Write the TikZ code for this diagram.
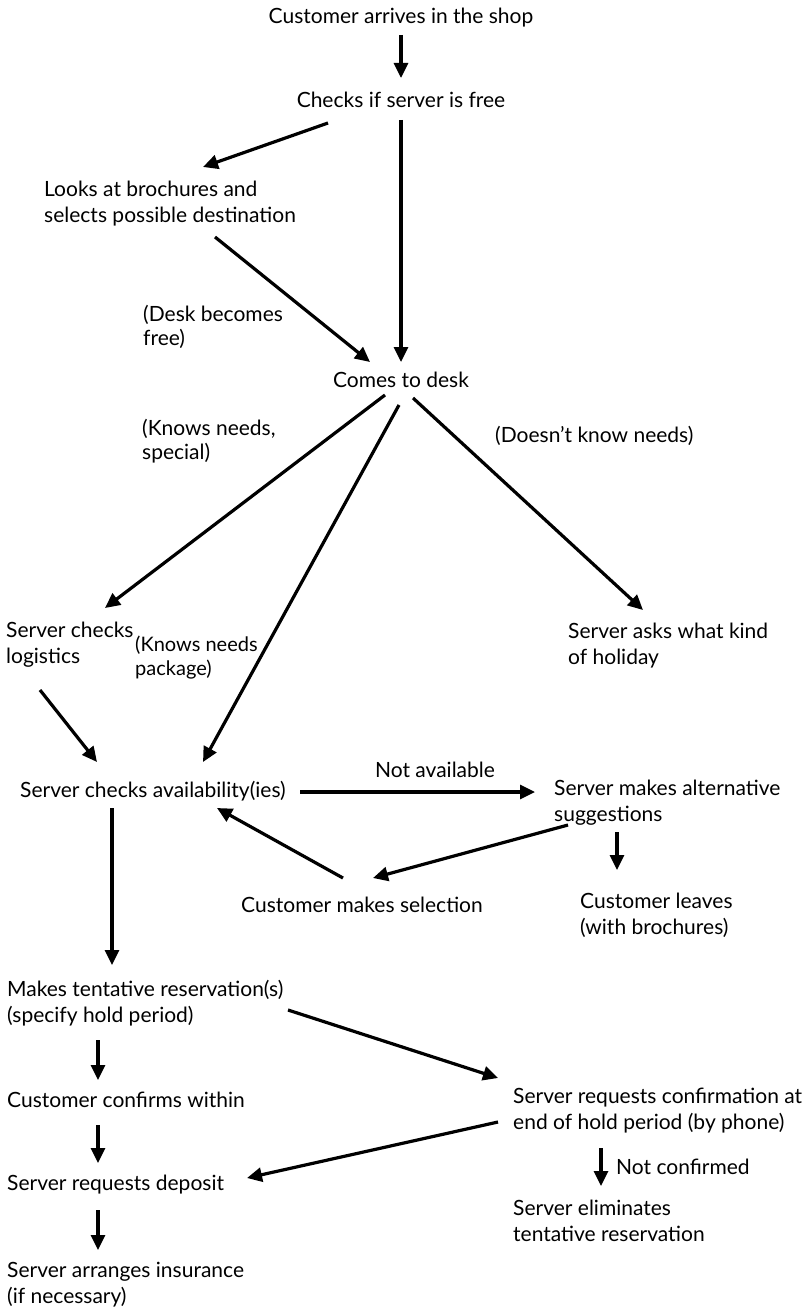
\documentclass[tikz,border=0pt]{standalone}
\usepackage{fontspec}
\setmainfont{Lato}
\usetikzlibrary{arrows.meta}
\begin{document}
\begin{tikzpicture}[x=1pt,y=-1pt,
  txt/.style={inner sep=0pt,align=left,font=\fontsize{21}{26}\selectfont},
  ctr/.style={inner sep=0pt,align=center,font=\fontsize{21}{26}\selectfont},
  arr/.style={line width=3.2pt,-{Triangle[length=15pt,width=14pt]}},
  lbl/.style={inner sep=0pt,align=left,font=\fontsize{21}{24}\selectfont}]
\useasboundingbox (0,0) rectangle (805,1308);
% main nodes
\node[ctr] (arrive) at (401,18) {Customer arrives in the shop};
\node[ctr] (free) at (401,100) {Checks if server is free};
\node[txt,anchor=west] (look) at (44,204) {Looks at brochures and\\selects possible destination};
\node[ctr] (desk) at (401,380) {Comes to desk};
\node[txt,anchor=west] (logi) at (6,645) {Server checks\\logistics};
\node[txt,anchor=west] (kind) at (568,646) {Server asks what kind\\of holiday};
\node[txt,anchor=west] (avail) at (20,791) {Server checks availability(ies)};
\node[txt,anchor=west] (alt) at (554,803) {Server makes alternative\\suggestions};
\node[ctr] (sel) at (362,905) {Customer makes selection};
\node[txt,anchor=west] (leave) at (580,915) {Customer leaves\\(with brochures)};
\node[txt,anchor=west] (tent) at (7,1003) {Makes tentative reservation(s)\\(specify hold period)};
\node[txt,anchor=west] (conf) at (7,1100) {Customer confirms within};
\node[txt,anchor=west] (req) at (513,1111) {Server requests confirmation at\\end of hold period (by phone)};
\node[txt,anchor=west] (dep) at (7,1185) {Server requests deposit};
\node[txt,anchor=west] (elim) at (513,1221) {Server eliminates\\tentative reservation};
\node[txt,anchor=west] (ins) at (7,1285) {Server arranges insurance\\(if necessary)};
% edge labels
\node[lbl,anchor=west] (lfree) at (143,327) {(Desk becomes\\free)};
\node[lbl,anchor=west] (lspec) at (142,441) {(Knows needs,\\special)};
\node[lbl,anchor=west] (ldont) at (495,436) {(Doesn't know needs)};
\node[lbl,anchor=west,font=\fontsize{20}{24}\selectfont] (lpack) at (135,658) {(Knows needs\\package)};
\node[lbl] (lnot) at (435,770) {Not available};
\node[lbl,anchor=west] (lnc) at (616,1167) {Not confirmed};
% connectors
\draw[arr] ([shift={(0,17)}]arrive.center) -- ([shift={(0,-22)}]free.center);
\draw[arr] ([shift={(-73,23)}]free.center) -- ([shift={(159,-37)}]look.west);
\draw[arr] ([shift={(0,20)}]free.center) -- ([shift={(0,-18)}]desk.center);
\draw[arr] ([shift={(171,33)}]look.west) -- ([shift={(-31,-18)}]desk.center);
\draw[arr] ([shift={(-16,15)}]desk.center) -- ([shift={(99,-37)}]logi.west);
\draw[arr] ([shift={(-2,25)}]desk.center) -- ([shift={(183,-29)}]avail.west);
\draw[arr] ([shift={(12,18)}]desk.center) -- ([shift={(75,-36)}]kind.west);
\draw[arr] ([shift={(34,45)}]logi.west) -- ([shift={(77,-29)}]avail.west);
\draw[arr] ([shift={(280,1)}]avail.west) -- ([shift={(-19,-11)}]alt.west);
\draw[arr] ([shift={(-19,-27)}]sel.center) -- ([shift={(197,17)}]avail.west);
\draw[arr] ([shift={(14,22)}]alt.west) -- ([shift={(11,-27)}]sel.center);
\draw[arr] ([shift={(63,29)}]alt.west) -- ([shift={(37,-45)}]leave.west);
\draw[arr] ([shift={(92,17)}]avail.west) -- ([shift={(105,-38)}]tent.west);
\draw[arr] ([shift={(281,7)}]tent.west) -- ([shift={(-15,-33)}]req.west);
\draw[arr] ([shift={(91,37)}]tent.west) -- ([shift={(91,-20)}]conf.west);
\draw[arr] ([shift={(-15,11)}]req.west) -- ([shift={(240,-7)}]dep.west);
\draw[arr] ([shift={(91,25)}]conf.west) -- ([shift={(91,-22)}]dep.west);
\draw[arr] ([shift={(88,37)}]req.west) -- ([shift={(88,-35)}]elim.west);
\draw[arr] ([shift={(91,25)}]dep.west) -- ([shift={(91,-35)}]ins.west);
\end{tikzpicture}
\end{document}
